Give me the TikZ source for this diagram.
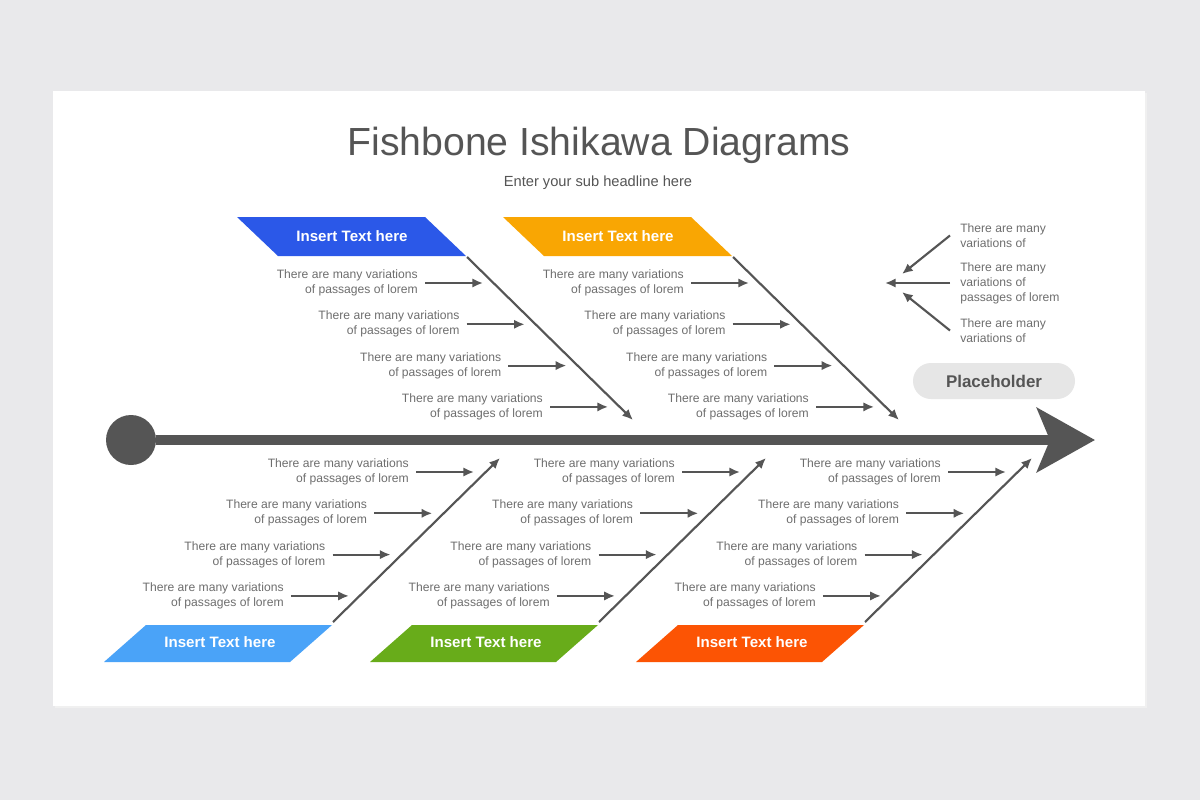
\documentclass[tikz,border=0pt]{standalone}
\usepackage{fontspec}
\setmainfont{Liberation Sans}
\usetikzlibrary{arrows.meta}
\usetikzlibrary{positioning, calc}
\definecolor{bgGray}{HTML}{E9E9EB}
\definecolor{boneGray}{HTML}{555555}
\definecolor{txtGray}{HTML}{6E6E6E}
\definecolor{phGray}{HTML}{E6E6E6}
\definecolor{catBlue}{HTML}{2B58E8}
\definecolor{catOrange}{HTML}{F9A603}
\definecolor{catSky}{HTML}{4AA3F8}
\definecolor{catGreen}{HTML}{68AC1A}
\definecolor{catRed}{HTML}{FC5404}
\tikzset{
  lbl/.style={font=\fontsize{9.1}{11.25}\selectfont, text=txtGray, align=right,
    anchor=east, inner xsep=5.25pt, inner ysep=0pt},
  rtxt/.style={font=\fontsize{9.1}{11.25}\selectfont, text=txtGray, align=left,
    anchor=west, inner xsep=7.5pt, inner ysep=0pt},
  ar/.style={boneGray, line width=1.6pt, -{Latex[length=8pt,width=7pt]}},
  bone/.style={boneGray, line width=1.6pt, -{Latex[length=8pt,width=7pt]}},
  spine/.style={boneGray, line width=7.5pt,
    -{Stealth[length=43.5pt,width=48pt,inset=9.75pt]}},
  cat/.style={font=\fontsize{11.3}{13}\selectfont\bfseries, text=white},
  ph/.style={fill=phGray, rounded corners=13.5pt, minimum width=121.5pt,
    minimum height=27pt, font=\fontsize{12.7}{14}\selectfont\bfseries, text=boneGray},
}

\begin{document}
\begin{tikzpicture}[x=0.75pt, y=-0.75pt]
  % SLIDE
  \fill[bgGray] (0,0) rectangle (1200,800);
  \fill[black!6] (55,93) rectangle (1147,708);
  \fill[white] (53,91) rectangle (1145,706);

  \node[font=\fontsize{29.4}{34}\selectfont, text=boneGray, anchor=base] (title)
    at (599,155) {Fishbone Ishikawa Diagrams};
  \node[font=\fontsize{11}{13}\selectfont, text=boneGray, anchor=base] (sub)
    at (598,186) {Enter your sub headline here};

  % SPINE
  \node[circle, fill=boneGray, minimum size=37.5pt, inner sep=0pt] (tailDot) at (131,440) {};
  \coordinate (headTip) at (1095,440);
  \draw[spine] (tailDot) -- (headTip);

  % UPPER BONES
  \foreach \b/\x/\c in {A/237/catBlue, B/503/catOrange}{
    \fill[\c] (\x,217) -- ++(188,0) -- ++(41,39) -- ++(-188,0) -- cycle;
    \node[cat] (h\b) at (\x+115,236) {Insert Text here};
    \coordinate (s\b) at (\x+230,257);
    \coordinate (tip\b) at (\x+396,420);
    \draw[bone] (s\b) -- (tip\b);
    \foreach \k in {0,...,3}{
      \node[lbl] (t\b\k) at (\x+188+41.7*\k, 283+41.3*\k)
        {There are many variations\\of passages of lorem};
      \coordinate[right=43.5pt of t\b\k] (e\b\k);
      \draw[ar] (t\b\k) -- (e\b\k);
    }
  }

  % LOWER BONES
  \foreach \b/\x/\c in {C/104/catSky, D/370/catGreen, E/636/catRed}{
    \fill[\c] (\x,662) -- ++(186,0) -- ++(42,-37) -- ++(-186,0) -- cycle;
    \node[cat] (h\b) at (\x+116,642) {Insert Text here};
    \coordinate (s\b) at (\x+229,622);
    \coordinate (tip\b) at (\x+396,458);
    \draw[bone] (s\b) -- (tip\b);
    \foreach \k in {0,...,3}{
      \node[lbl] (t\b\k) at (\x+312-41.7*\k, 472+41.3*\k)
        {There are many variations\\of passages of lorem};
      \coordinate[right=43.5pt of t\b\k] (e\b\k);
      \draw[ar] (t\b\k) -- (e\b\k);
    }
  }

  % EFFECT SIDE
  \coordinate (hub) at (885,283);
  \coordinate (hubA) at (902,274);
  \coordinate (hubC) at (902,292);
  \node[rtxt] (r1) at (950,235.5) {There are many\\variations of};
  \node[rtxt] (r2) at (950,283) {There are many\\variations of\\passages of lorem};
  \node[rtxt] (r3) at (950,330.5) {There are many\\variations of};
  \draw[ar] (r1.west) -- (hubA);
  \draw[ar] (r2.west) -- (hub);
  \draw[ar] (r3.west) -- (hubC);
  \node[ph] (ph) at (994,381) {Placeholder};
\end{tikzpicture}
\end{document}
